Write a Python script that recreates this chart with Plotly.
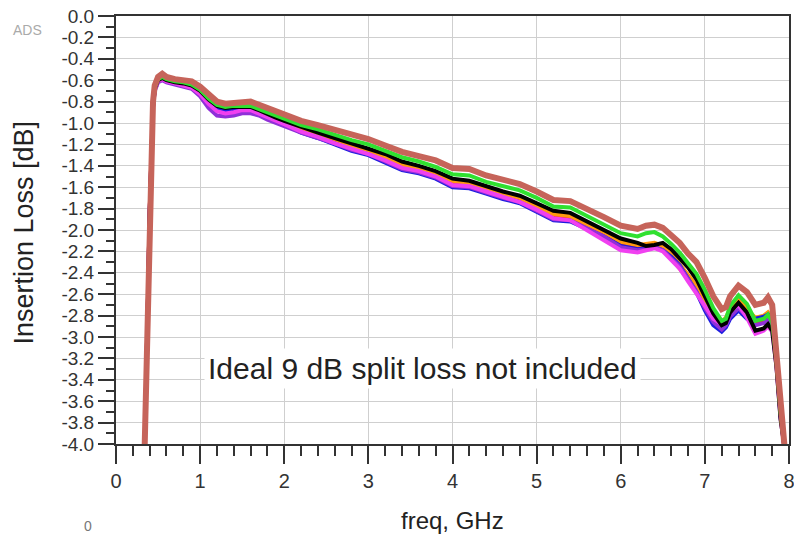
import plotly.graph_objects as go

freq = [0.34, 0.36, 0.38, 0.40, 0.42, 0.44, 0.46, 0.50, 0.55,
        0.6, 0.7, 0.8, 0.9, 1.0, 1.1, 1.2, 1.3, 1.4, 1.5, 1.6, 1.7, 1.8, 1.9, 2.0,
        2.2, 2.4, 2.6, 2.8, 3.0, 3.2, 3.4, 3.6, 3.8, 4.0, 4.2, 4.4, 4.6, 4.8, 5.0,
        5.2, 5.4, 5.6, 5.8, 6.0, 6.2,
        6.3, 6.4, 6.5, 6.6, 6.7, 6.8, 6.9, 7.0, 7.1, 7.2, 7.25, 7.3,
        7.4, 7.5, 7.6, 7.7, 7.75, 7.8, 7.85, 7.9, 7.95]

il_red = [-4.05, -3.44, -2.64, -1.84, -1.24, -0.84, -0.69, -0.61, -0.59,
          -0.61, -0.63, -0.64, -0.66, -0.72, -0.80, -0.86, -0.88, -0.87, -0.87, -0.87, -0.90, -0.94, -0.97, -1.00,
          -1.06, -1.11, -1.17, -1.23, -1.27, -1.33, -1.40, -1.43, -1.48, -1.55, -1.57, -1.62, -1.67, -1.72, -1.79,
          -1.87, -1.88, -1.96, -2.04, -2.13, -2.16,
          -2.15, -2.14, -2.17, -2.26, -2.36, -2.46, -2.56, -2.68, -2.82, -2.88, -2.85, -2.77,
          -2.68, -2.77, -2.86, -2.84, -2.80, -2.86, -3.22, -3.72, -4.05]

il_orange = [-4.05, -3.43, -2.63, -1.83, -1.23, -0.83, -0.68, -0.60, -0.58,
             -0.60, -0.62, -0.63, -0.65, -0.71, -0.79, -0.85, -0.87, -0.86, -0.86, -0.86, -0.89, -0.93, -0.96, -0.99,
             -1.05, -1.10, -1.15, -1.21, -1.26, -1.32, -1.39, -1.42, -1.47, -1.54, -1.56, -1.61, -1.66, -1.70, -1.77,
             -1.85, -1.87, -1.94, -2.02, -2.11, -2.14,
             -2.13, -2.12, -2.15, -2.22, -2.32, -2.42, -2.52, -2.66, -2.80, -2.86, -2.82, -2.74,
             -2.65, -2.74, -2.82, -2.80, -2.77, -2.82, -3.20, -3.70, -4.05]

il_blue = [-4.05, -3.45, -2.65, -1.85, -1.25, -0.85, -0.69, -0.61, -0.59,
           -0.61, -0.63, -0.64, -0.66, -0.72, -0.81, -0.87, -0.89, -0.88, -0.87, -0.87, -0.90, -0.94, -0.98, -1.01,
           -1.09, -1.14, -1.20, -1.26, -1.30, -1.37, -1.44, -1.47, -1.52, -1.60, -1.61, -1.66, -1.71, -1.75, -1.83,
           -1.91, -1.92, -1.99, -2.06, -2.15, -2.18,
           -2.17, -2.16, -2.19, -2.25, -2.33, -2.45, -2.58, -2.75, -2.89, -2.95, -2.91, -2.83,
           -2.75, -2.83, -2.83, -2.81, -2.79, -2.83, -3.22, -3.72, -4.05]

il_purple = [-4.05, -3.45, -2.65, -1.85, -1.25, -0.85, -0.70, -0.62, -0.60,
             -0.62, -0.64, -0.66, -0.68, -0.75, -0.86, -0.93, -0.94, -0.93, -0.91, -0.91, -0.93, -0.97, -1.00, -1.03,
             -1.09, -1.14, -1.19, -1.25, -1.29, -1.36, -1.43, -1.46, -1.51, -1.59, -1.60, -1.65, -1.70, -1.74, -1.82,
             -1.90, -1.91, -1.98, -2.06, -2.16, -2.19,
             -2.18, -2.16, -2.19, -2.26, -2.34, -2.46, -2.58, -2.73, -2.86, -2.93, -2.89, -2.81,
             -2.73, -2.81, -2.89, -2.87, -2.83, -2.89, -3.24, -3.74, -4.05]

il_magenta = [-4.05, -3.44, -2.64, -1.84, -1.24, -0.84, -0.69, -0.61, -0.59,
              -0.61, -0.63, -0.65, -0.67, -0.73, -0.82, -0.89, -0.91, -0.90, -0.88, -0.88, -0.91, -0.95, -0.98, -1.01,
              -1.08, -1.13, -1.19, -1.24, -1.29, -1.35, -1.42, -1.45, -1.50, -1.58, -1.59, -1.64, -1.69, -1.74, -1.81,
              -1.89, -1.91, -2.00, -2.09, -2.19, -2.21,
              -2.19, -2.17, -2.20, -2.28, -2.36, -2.48, -2.59, -2.71, -2.83, -2.88, -2.84, -2.76,
              -2.70, -2.82, -2.97, -2.94, -2.90, -2.95, -3.27, -3.77, -4.05]

il_black = [-4.05, -3.45, -2.65, -1.85, -1.25, -0.84, -0.68, -0.60, -0.58,
            -0.60, -0.62, -0.63, -0.65, -0.70, -0.78, -0.84, -0.86, -0.85, -0.85, -0.85, -0.88, -0.92, -0.95, -0.98,
            -1.04, -1.09, -1.14, -1.19, -1.24, -1.29, -1.36, -1.40, -1.45, -1.52, -1.54, -1.59, -1.64, -1.68, -1.75,
            -1.82, -1.84, -1.92, -1.99, -2.08, -2.12,
            -2.15, -2.14, -2.12, -2.18, -2.26, -2.35, -2.46, -2.62, -2.78, -2.89, -2.87, -2.77,
            -2.68, -2.77, -2.94, -2.92, -2.88, -2.94, -3.27, -3.77, -4.05]

il_green = [-4.05, -3.42, -2.62, -1.82, -1.22, -0.82, -0.67, -0.59, -0.57,
            -0.59, -0.61, -0.62, -0.64, -0.69, -0.77, -0.83, -0.85, -0.84, -0.84, -0.84, -0.87, -0.90, -0.93, -0.96,
            -1.02, -1.06, -1.11, -1.16, -1.20, -1.26, -1.32, -1.36, -1.41, -1.48, -1.49, -1.55, -1.59, -1.63, -1.70,
            -1.78, -1.79, -1.87, -1.95, -2.03, -2.06,
            -2.03, -2.02, -2.06, -2.13, -2.21, -2.31, -2.41, -2.56, -2.73, -2.85, -2.83, -2.71,
            -2.61, -2.69, -2.85, -2.83, -2.79, -2.86, -3.21, -3.71, -4.05]

il_brown = [-4.05, -3.40, -2.60, -1.80, -1.20, -0.80, -0.65, -0.57, -0.54,
            -0.57, -0.59, -0.60, -0.61, -0.66, -0.74, -0.80, -0.82, -0.81, -0.80, -0.80, -0.83, -0.86, -0.89, -0.92,
            -0.98, -1.02, -1.06, -1.11, -1.15, -1.21, -1.27, -1.31, -1.35, -1.42, -1.43, -1.49, -1.53, -1.57, -1.64,
            -1.72, -1.73, -1.80, -1.88, -1.96, -1.99,
            -1.96, -1.95, -1.98, -2.05, -2.12, -2.22, -2.30, -2.45, -2.62, -2.74, -2.72, -2.62,
            -2.52, -2.58, -2.70, -2.68, -2.63, -2.70, -3.10, -3.60, -4.05]

series = [
    ("red", il_red, "#ff2424", 4),
    ("orange", il_orange, "#ff9a10", 4),
    ("blue", il_blue, "#1c1ce0", 4),
    ("purple", il_purple, "#9030d8", 4),
    ("magenta", il_magenta, "#f040f0", 4),
    ("black", il_black, "#000000", 4),
    ("green", il_green, "#30e030", 4),
    ("brown", il_brown, "#c6645a", 6),
]

y_tickvals = [0.0, -0.2, -0.4, -0.6, -0.8, -1.0, -1.2, -1.4, -1.6, -1.8, -2.0,
              -2.2, -2.4, -2.6, -2.8, -3.0, -3.2, -3.4, -3.6, -3.8, -4.0]
y_ticktext = ["0.0", "-0.2", "-0.4", "-0.6", "-0.8", "-1.0", "-1.2", "-1.4", "-1.6", "-1.8", "-2.0",
              "-2.2", "-2.4", "-2.6", "-2.8", "-3.0", "-3.2", "-3.4", "-3.6", "-3.8", "-4.0"]
x_tickvals = [0, 1, 2, 3, 4, 5, 6, 7, 8]
x_ticktext = ["0", "1", "2", "3", "4", "5", "6", "7", "8"]

fig = go.Figure()
for name, vals, color, width in series:
    fig.add_trace(go.Scatter(x=freq, y=vals, mode="lines", name=name,
                             line=dict(color=color, width=width), hoverinfo="skip"))

FONT = "Liberation Sans, Arial, sans-serif"
axis_font = dict(family=FONT, color="#333333")

fig.update_layout(
    width=794, height=538,
    margin=dict(l=116, r=5, t=16, b=94, autoexpand=False),
    paper_bgcolor="white", plot_bgcolor="white",
    showlegend=False,
    xaxis=dict(range=[0, 8], tickvals=x_tickvals, ticktext=x_ticktext, automargin=False,
               ticklabeloverflow="allow",
               ticks="outside", ticklen=18, tickwidth=2, tickcolor="#333333",
               showline=True, linecolor="#333333", linewidth=2, mirror=True,
               showgrid=True, gridcolor="#cfcfcf", gridwidth=1, zeroline=False,
               tickfont=dict(size=20, **axis_font),
               minor=dict(dtick=0.2, ticks="outside", ticklen=10, tickwidth=2,
                          tickcolor="#333333", showgrid=False)),
    yaxis=dict(range=[-4, 0], tickvals=y_tickvals, ticktext=y_ticktext, automargin=False,
               ticklabeloverflow="allow",
               ticks="outside", ticklen=16, tickwidth=2, tickcolor="#333333",
               showline=True, linecolor="#333333", linewidth=2, mirror=True,
               showgrid=True, gridcolor="#cfcfcf", gridwidth=1, zeroline=False,
               tickfont=dict(size=19, **axis_font),
               minor=dict(dtick=0.1, ticks="outside", ticklen=8, tickwidth=2,
                          tickcolor="#333333", showgrid=False)),
)

fig.add_annotation(x=3.64, y=-3.29, xref="x", yref="y", xanchor="center", yanchor="middle",
                   text="Ideal 9 dB split loss not included", showarrow=False,
                   bgcolor="white", borderpad=3,
                   font=dict(size=30, family=FONT, color="#222222"))
fig.add_annotation(x=-0.136, y=0.495, xref="paper", yref="paper", textangle=-90,
                   xanchor="center", yanchor="middle",
                   text="Insertion Loss [dB]", showarrow=False,
                   font=dict(size=27, family=FONT, color="#222222"))
fig.add_annotation(x=0.5, y=-0.178, xref="paper", yref="paper", xanchor="center", yanchor="middle",
                   text="freq, GHz", showarrow=False,
                   font=dict(size=24, family=FONT, color="#222222"))
fig.add_annotation(x=-0.131, y=0.967, xref="paper", yref="paper", xanchor="center", yanchor="middle",
                   text="ADS", showarrow=False,
                   font=dict(size=14, family=FONT, color="#aaaaaa"))
fig.add_annotation(x=-0.042, y=-0.215, xref="paper", yref="paper", xanchor="center", yanchor="bottom",
                   text="0", showarrow=False,
                   font=dict(size=14, family=FONT, color="#777777"))

fig.write_html("out.html", config={"displayModeBar": False},
               post_script="document.body.style.margin='0';")
